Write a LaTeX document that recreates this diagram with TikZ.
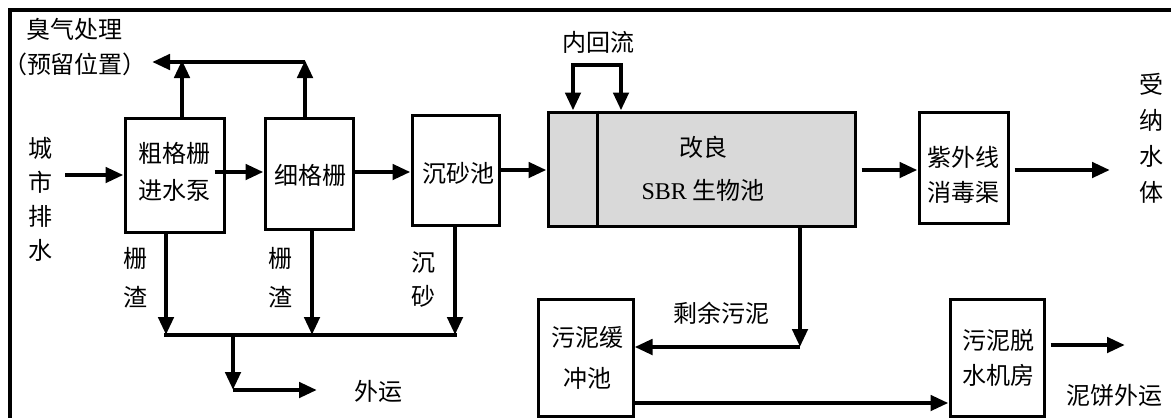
\documentclass[tikz,border=0pt]{standalone}
\usepackage{fontspec}
\setmainfont{Liberation Serif}
\newfontfamily\cjk{Noto Sans CJK SC}
\usetikzlibrary{arrows.meta,calc}
\begin{document}
\begin{tikzpicture}[x=1pt,y=-1pt,
  mytip/.tip={Triangle[length=18pt,width=15pt]},
  box/.style={draw, line width=3pt, inner sep=0pt},
  lbl/.style={font=\cjk\fontsize{24}{#1}\selectfont, align=center, inner sep=0pt},
  arr/.style={line width=4.5pt, -mytip},
  ln/.style={line width=4.5pt, line cap=rect}]
\useasboundingbox (0,0) rectangle (1171,418);
% frame
\draw[line width=4pt] (10,420) -- (10,10) -- (1173,10);
% boxes
\node[box, minimum width=99pt, minimum height=114pt] (rough) at (174.5,175) {};
\node[box, minimum width=88pt, minimum height=111pt] (fine) at (309,173.5) {};
\node[box, minimum width=87pt, minimum height=110pt] (grit) at (455.5,170) {};
\node[box, fill=black!15, minimum width=307pt, minimum height=114pt] (sbr) at (701.5,169) {};
\node[box, minimum width=89pt, minimum height=111pt] (uv) at (963.5,167.5) {};
\node[box, minimum width=95pt, minimum height=117pt] (buffer) at (585.5,357.5) {};
\node[box, minimum width=94pt, minimum height=117pt] (dewater) at (997,357.5) {};
\coordinate (dv) at (597,0);
\draw[line width=3pt] (sbr.north -| dv) -- (sbr.south -| dv);
% box texts
\node[lbl=37] (roughT) at (174.5,171.5) {粗格栅\\进水泵};
\node[lbl=37] (fineT) at (310,175) {细格栅};
\node[lbl=37] (gritT) at (458,173) {沉砂池};
\node[lbl=43] (sbrT) at (703,168.5) {改良\\{\rmfamily SBR} 生物池};
\node[lbl=35] (uvT) at (963.5,174.5) {紫外线\\消毒渠};
\node[lbl=41] (bufferT) at (587,357.5) {污泥缓\\冲池};
\node[lbl=35] (dewaterT) at (998,357.5) {污泥脱\\水机房};
% free labels
\node[lbl=34] (city) at (40,199) {城\\市\\排\\水};
\node[lbl=36] (recv) at (1151,138.5) {受\\纳\\水\\体};
\node[lbl=35] (odor) at (75,47.5) {臭气处理\\（预留位置）};
\node[lbl=30] (ir) at (598,42) {内回流};
\node[lbl=39] (slag1) at (135,277.5) {栅\\渣};
\node[lbl=39] (slag2) at (280,277.5) {栅\\渣};
\node[lbl=34] (sand) at (423,280) {沉\\砂};
\node[lbl=30] (out) at (378,391) {外运};
\node[lbl=30] (excess) at (721,313) {剩余污泥};
\node[lbl=30] (cake) at (1114,395) {泥饼外运};
% helper coordinates
\coordinate (y172) at (0,172);
\coordinate (y170) at (0,170);
\coordinate (y403) at (0,403);
\coordinate (y345) at (0,345);
% main flow
\coordinate (cin) at (65,175);
\draw[arr] (cin) -- (rough.west);
\draw[arr, shorten <=-11pt] (rough.east |- y172) -- (fine.west |- y172);
\draw[arr] (fine.east |- y172) -- (grit.west |- y172);
\draw[arr] (grit.east |- y170) -- (sbr.west |- y170);
\draw[arr, shorten <=5pt] (sbr.east |- y170) -- (uv.west |- y170);
\coordinate (rcvend) at (1110,170);
\draw[arr, shorten <=5pt] (uv.east |- y170) -- (rcvend);
% odour
\coordinate (oj1) at (182,60);
\coordinate (oj2) at (305,60);
\coordinate (oh) at (305,62);
\coordinate (otip) at (152,62);
\draw[arr] (rough.north -| oj1) -- (oj1);
\draw[arr] (fine.north -| oj2) -- (oj2);
\draw[arr] (oh) -- (otip);
% internal recycle
\coordinate (irL) at (573,65);
\coordinate (irR) at (621,65);
\draw[line width=4.5pt, mytip-mytip] (irL |- sbr.north) -- (irL) -- (irR) -- (irR |- sbr.north);
% screenings
\coordinate (b1) at (166,335);
\coordinate (b2) at (312,335);
\coordinate (b3) at (455,335);
\draw[arr] (rough.south -| b1) -- (b1);
\draw[arr] (fine.south -| b2) -- (b2);
\draw[arr] (grit.south -| b3) -- (b3);
\draw[ln] (b1) -- (b3);
\coordinate (bj) at (233,335);
\coordinate (bc) at (233,390);
\coordinate (outend) at (317,390);
\draw[arr] (bj) -- (bc);
\draw[arr] (bc) -- (outend);
% sludge
\coordinate (sj) at (800,347);
\draw[arr] (sbr.south -| sj) -- (sj);
\draw[arr] (sj) -- (buffer.east |- sj);
\draw[arr] (buffer.east |- y403) -- (dewater.west |- y403);
\coordinate (cakeend) at (1125,345);
\draw[arr, shorten <=5pt] (dewater.east |- y345) -- (cakeend);
\end{tikzpicture}
\end{document}
